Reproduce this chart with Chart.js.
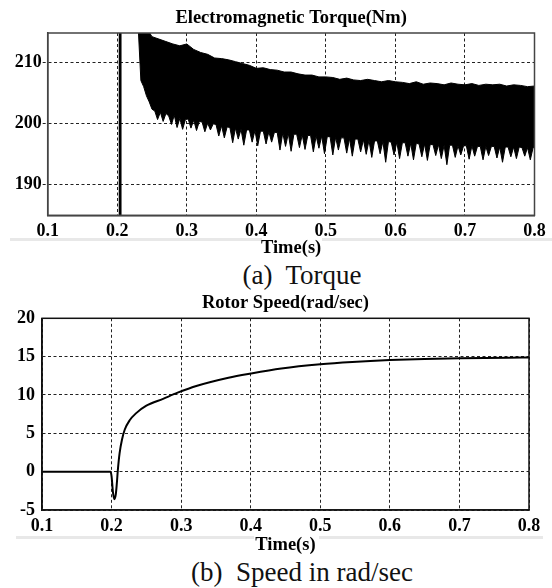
<!DOCTYPE html>
<html>
<head>
<meta charset="utf-8">
<script src="https://cdn.jsdelivr.net/npm/chart.js@4.4.0/dist/chart.umd.min.js"></script>
<style>
body { margin:0; background:#fff; width:552px; height:588px; position:relative; overflow:hidden; font-family:'Liberation Serif', 'Times New Roman', serif; }
canvas { position:absolute; left:0; z-index:2; }
#torque { top:0; }
#speed { top:290px; }
.band { position:absolute; height:3px; background:#e8e8e8; z-index:1; }
.cap { position:absolute; left:0; width:604px; text-align:center; font-size:27px; line-height:30px; color:#111; }
</style>
</head>
<body>
<div class="band" style="top:238px;left:10px;width:252px"></div>
<div class="band" style="top:238px;left:322px;width:230px"></div>
<div class="band" style="top:536px;left:16px;width:238px"></div>
<div class="band" style="top:536px;left:319px;width:224px"></div>
<canvas id="torque" width="552" height="260"></canvas>
<div class="cap" style="top:260px">(a)&nbsp; Torque</div>
<canvas id="speed" width="552" height="268"></canvas>
<div class="cap" style="top:557px">(b)&nbsp; Speed in rad/sec</div>
<script>
// x axis ticks (s)
const timeTicks = [0.1, 0.2, 0.3, 0.4, 0.5, 0.6, 0.7, 0.8];
const torqueTicks = [190, 200, 210];
const speedTicks = [-5, 0, 5, 10, 15, 20];

// torque before the band: jumps through the view near 0.2 s
const torquePreT = [0.1, 0.2029, 0.2032, 0.2048, 0.2051, 0.2299];
const torquePreV = [0, 0, 260, 260, 0, 0];

// upper edge of the ripple band
const torqueUpT = [0.230, 0.24, 0.25, 0.26, 0.27, 0.28, 0.29, 0.30, 0.31, 0.32, 0.33, 0.34, 0.35, 0.36, 0.37, 0.38, 0.39,
  0.40, 0.41, 0.42, 0.43, 0.44, 0.45, 0.46, 0.47, 0.48, 0.49, 0.50, 0.51, 0.52, 0.53, 0.54, 0.55, 0.56, 0.57, 0.58, 0.59,
  0.60, 0.61, 0.62, 0.63, 0.64, 0.65, 0.66, 0.67, 0.68, 0.69, 0.70, 0.71, 0.72, 0.73, 0.74, 0.75, 0.76, 0.77, 0.78, 0.79, 0.80];
const torqueUpV = [230, 216, 214.2, 213.8, 213.4, 213.0, 212.7, 213.0, 212.1, 211.6, 211.3, 210.7, 210.6, 210.4, 210.1, 209.8, 209.5,
  209.0, 209.1, 208.8, 208.7, 208.4, 208.4, 208.1, 207.9, 207.9, 207.6, 207.6, 207.5, 207.2, 207.4, 207.1, 207.0, 207.2, 207.0, 206.8, 207.0,
  206.8, 206.7, 206.5, 206.8, 206.4, 206.6, 206.5, 206.3, 206.6, 206.4, 206.3, 206.5, 206.2, 206.4, 206.3, 206.4, 206.1, 206.3, 206.2, 206.0, 206.1];

// lower edge of the ripple band, sampled every 4 ms from 0.230 s
const LOW_T0 = 0.230, LOW_DT = 0.004;
const torqueLowV = [216, 207, 206, 204.5, 203.5, 202.3, 202, 200.6, 201.8, 200.3,
  201.6, 201.2, 199.8, 201.3, 199.3, 200.8, 199.0, 200.6, 200.7, 199.2,
  200.5, 198.8, 200.3, 200.2, 198.6, 200.0, 198.9, 199.9, 199.8, 197.9,
  199.6, 197.6, 199.4, 199.3, 196.8, 199.2, 197.4, 199.0, 196.4, 198.9,
  198.9, 196.9, 198.8, 196.3, 198.7, 198.7, 196.6, 198.6, 196.9, 198.5,
  198.5, 195.6, 198.4, 196.2, 198.3, 195.4, 198.2, 198.2, 196.0, 198.1,
  195.7, 198.0, 198.0, 195.3, 197.9, 195.9, 197.9, 195.0, 197.8, 197.8,
  194.8, 197.7, 195.6, 197.6, 197.6, 195.1, 197.5, 194.6, 197.4, 197.4,
  195.3, 197.3, 194.9, 197.2, 194.4, 197.1, 197.1, 195.0, 197.0, 193.6,
  197.0, 196.9, 194.8, 196.9, 194.2, 196.8, 196.8, 194.6, 196.7, 194.0,
  196.7, 196.6, 194.5, 196.6, 193.9, 196.5, 196.5, 194.7, 196.5, 194.2,
  196.4, 193.2, 196.4, 196.4, 194.4, 196.3, 194.8, 196.3, 196.3, 194.1,
  196.3, 194.6, 196.2, 196.2, 194.0, 196.2, 194.7, 196.2, 196.2, 194.3,
  196.1, 193.6, 196.1, 196.1, 194.5, 196.1, 194.2, 196.1, 196.0, 194.6,
  196.0, 194.0, 196.0, 196.1];

// rotor speed (rad/sec)
const speedT = [0.100, 0.1985, 0.2000, 0.2020, 0.2040, 0.2060, 0.2075, 0.2090, 0.2115, 0.2150, 0.2190, 0.2260, 0.2350,
  0.2500, 0.2740, 0.2950, 0.3230, 0.3680, 0.4000, 0.4440, 0.5000, 0.5460, 0.6000, 0.6500, 0.7000, 0.7700, 0.8000];
const speedV = [0, 0, -0.6, -2.7, -3.6, -3.0, -1.6, 0.2, 2.4, 4.2, 5.5, 6.7, 7.6,
  8.6, 9.5, 10.3, 11.2, 12.25, 12.8, 13.45, 14.0, 14.3, 14.55, 14.7, 14.8, 14.85, 14.9];

const pts = (t, v) => v.map((y, i) => ({ x: t[i], y }));
const torqueLowT = torqueLowV.map((_, i) => LOW_T0 + i * LOW_DT);

Chart.defaults.color = '#000';
Chart.defaults.font.family = "'Liberation Serif', 'Times New Roman', serif";

const frame = {
  id: 'frame',
  afterDraw(chart, args, opts) {
    const { ctx, chartArea: a } = chart;
    ctx.save();
    ctx.strokeStyle = opts.color;
    ctx.lineWidth = opts.width;
    ctx.strokeRect(a.left, a.top, a.right - a.left, a.bottom - a.top);
    ctx.restore();
  }
};

const tickFont = { size: 18, weight: 'bold' };
const titleFont = { size: 18.5, weight: 'bold' };
const line = { borderColor: '#000', pointRadius: 0, tension: 0, fill: false };

function xScale(axisHeight, labelPad, titlePad) {
  return {
    type: 'linear', min: 0.1, max: 0.8,
    afterBuildTicks: s => { s.ticks = timeTicks.map(v => ({ value: v })); },
    afterFit: s => { s.height = axisHeight; },
    ticks: { font: tickFont, padding: labelPad, autoSkip: false, maxRotation: 0, callback: v => v.toFixed(1) },
    grid: { color: '#222', lineWidth: 1, drawTicks: false },
    border: { color: '#333', width: 1.5, dash: [3, 2.5] },
    title: { display: true, text: 'Time(s)', font: titleFont, padding: { top: 0, bottom: titlePad } }
  };
}

new Chart(document.getElementById('torque'), {
  type: 'line',
  data: {
    datasets: [
      { ...line, data: pts(torquePreT, torquePreV), borderWidth: 1.5 },
      { ...line, data: pts(torqueUpT, torqueUpV), borderWidth: 1, backgroundColor: '#000', fill: '+1' },
      { ...line, data: pts(torqueLowT, torqueLowV), borderWidth: 1 }
    ]
  },
  options: {
    responsive: false, animation: false, devicePixelRatio: 1,
    layout: { padding: { left: 0, top: 0, right: 17.5, bottom: 0 } },
    plugins: {
      legend: { display: false }, tooltip: { enabled: false },
      title: { display: true, fullSize: false, text: 'Electromagnetic Torque(Nm)', font: titleFont, padding: { top: 6.7, bottom: 4.1 } },
      frame: { color: '#444', width: 1.5 }
    },
    scales: {
      x: xScale(44.7, 5, 1.0),
      y: {
        min: 184.9, max: 214.8,
        afterBuildTicks: s => { s.ticks = torqueTicks.map(v => ({ value: v })); },
        afterFit: s => { s.width = 47.7; },
        ticks: { font: tickFont, padding: 1 },
        grid: { color: '#222', lineWidth: 1, tickLength: 5, tickBorderDash: [3, 2.5] },
        border: { color: '#333', width: 1.5, dash: [3, 2.5] }
      }
    }
  },
  plugins: [frame]
});

new Chart(document.getElementById('speed'), {
  type: 'line',
  data: {
    datasets: [
      { ...line, data: pts(speedT, speedV), borderWidth: 2, cubicInterpolationMode: 'monotone' }
    ]
  },
  options: {
    responsive: false, animation: false, devicePixelRatio: 1,
    layout: { padding: { left: 0, top: 0, right: 23, bottom: 0 } },
    plugins: {
      legend: { display: false }, tooltip: { enabled: false },
      title: { display: true, fullSize: false, text: 'Rotor Speed(rad/sec)', font: titleFont, padding: { top: 2.6, bottom: 3.5 } },
      frame: { color: '#111', width: 1.5 }
    },
    scales: {
      x: xScale(48, 6, 1.2),
      y: {
        min: -5, max: 20,
        afterBuildTicks: s => { s.ticks = speedTicks.map(v => ({ value: v })); },
        afterFit: s => { s.width = 42; },
        ticks: { font: tickFont, padding: 7 },
        grid: { color: '#222', lineWidth: 1, drawTicks: false },
        border: { color: '#111', width: 1.5, dash: [3, 2.5] }
      }
    }
  },
  plugins: [frame]
});
</script>
</body>
</html>
